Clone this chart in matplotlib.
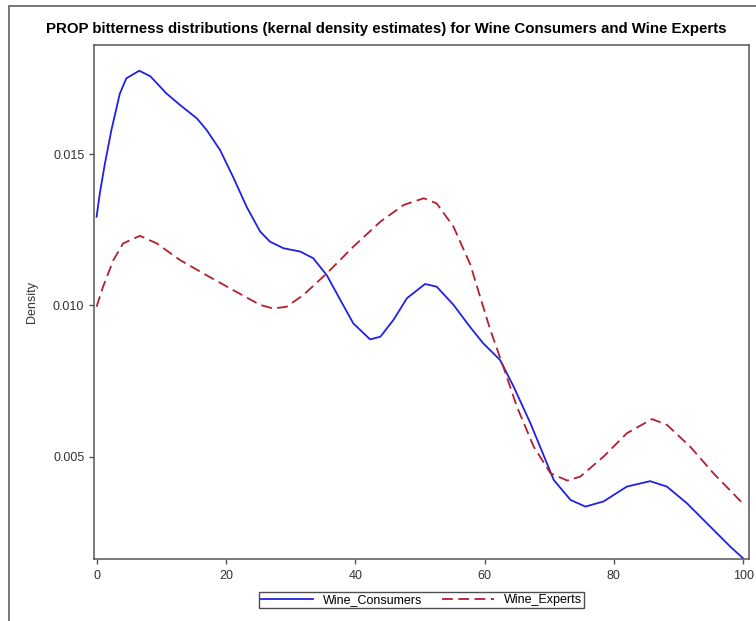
import matplotlib
matplotlib.use("Agg")
import matplotlib.pyplot as plt
from matplotlib.patches import Rectangle

plt.rcParams['font.family'] = ['Liberation Sans', 'DejaVu Sans']

# PROP bitterness score (x) and density
consumers_x = [0, 0.5, 1.3, 2.3, 3.6, 4.6, 6.6, 8.3, 10.8, 12.9, 15.5, 17, 19.1,
               21.1, 23.2, 25.3, 26.8, 28.9, 31.5, 33.5, 35.6, 37.7, 39.7, 42.3,
               43.9, 45.9, 48, 50.8, 52.6, 55.2, 57.8, 59.8, 62.4, 64.5, 67.1,
               70.7, 73.3, 75.6, 78.4, 82, 85.6, 88.2, 91.3, 94.9, 98, 100]
consumers_y = [0.01293, 0.0137, 0.0147, 0.0158, 0.0170, 0.0175, 0.01775, 0.01757,
               0.0170, 0.01662, 0.01618, 0.0158, 0.01513, 0.01425, 0.01326,
               0.01244, 0.01211, 0.01189, 0.01178, 0.01156, 0.0110, 0.01018,
               0.00941, 0.00888, 0.00897, 0.00952, 0.01024, 0.01071, 0.01062,
               0.01002, 0.00928, 0.00875, 0.0082, 0.00732, 0.00611, 0.00424,
               0.00358, 0.00336, 0.00353, 0.00402, 0.00420, 0.00402, 0.00347,
               0.0027, 0.00204, 0.00165]

experts_x = [0, 1, 2.6, 4.1, 6.7, 9.3, 12.9, 17, 21.1, 25.3, 27.3, 29.4, 32,
             35.6, 39.7, 43.9, 47.5, 50.6, 52.6, 55.2, 57.8, 59.3, 60.9, 62.9,
             65, 67.6, 70.2, 72.8, 74.8, 78.4, 82, 85.9, 88.2, 91.8, 95.4, 100]
experts_y = [0.00996, 0.01062, 0.0115, 0.01205, 0.0123, 0.01205, 0.0115, 0.0110,
             0.01051, 0.01002, 0.0099, 0.00996, 0.01035, 0.01106, 0.01194,
             0.01277, 0.01332, 0.01354, 0.01337, 0.0126, 0.01135, 0.0103,
             0.00919, 0.00798, 0.00666, 0.00534, 0.00446, 0.00422, 0.00435,
             0.00501, 0.00578, 0.00625, 0.00606, 0.00534, 0.00446, 0.00345]

x_ticks = [0, 20, 40, 60, 80, 100]
y_ticks = [0.005, 0.010, 0.015]
y_tick_labels = ['0.005', '0.010', '0.015']

fig = plt.figure(figsize=(7.56, 6.21), dpi=100)
ax = fig.add_axes([94/756, 1-559/621, (749-94)/756, (559-45)/621])

# outer frame
fig.patches.append(Rectangle((9/756, -0.05), 1.2, 1-6/621+0.05,
                             transform=fig.transFigure, fill=False,
                             edgecolor='#606060', lw=1.2))

ax.plot(consumers_x, consumers_y, color='#2020e8', lw=1.3, label='Wine_Consumers')
ax.plot(experts_x, experts_y, color='#b41e2e', lw=1.3, dashes=(6, 3),
        label='Wine_Experts')

ax.set_xlim(-0.4, 100.9)
ax.set_ylim(0.00163, 0.0186)
ax.set_xticks(x_ticks)
ax.set_yticks(y_ticks)
ax.set_yticklabels(y_tick_labels)
ax.tick_params(direction='out', length=3.5, width=1, colors='#555555',
               labelcolor='#333333', labelsize=9)
ax.tick_params(axis='x', pad=4.5)
ax.tick_params(axis='y', pad=3.5)
for s in ax.spines.values():
    s.set_color('#555555')
    s.set_linewidth(1.1)

ax.set_ylabel('Density', fontsize=9, color='#333333', labelpad=11)
fig.text(386/756, 1-29/621, 'PROP bitterness distributions (kernal density estimates) '
         'for Wine Consumers and Wine Experts', ha='center', va='center',
         fontsize=10.8, fontweight='bold')

leg = ax.legend(loc='center', bbox_to_anchor=(0.5, -0.080), ncol=2, fontsize=9,
                fancybox=False, frameon=True, handlelength=4.2, borderpad=0.15,
                columnspacing=1.5, handletextpad=0.8, borderaxespad=0)
leg.get_frame().set_edgecolor('#222222')
leg.get_frame().set_linewidth(1)

fig.savefig('out.png', dpi=100)
